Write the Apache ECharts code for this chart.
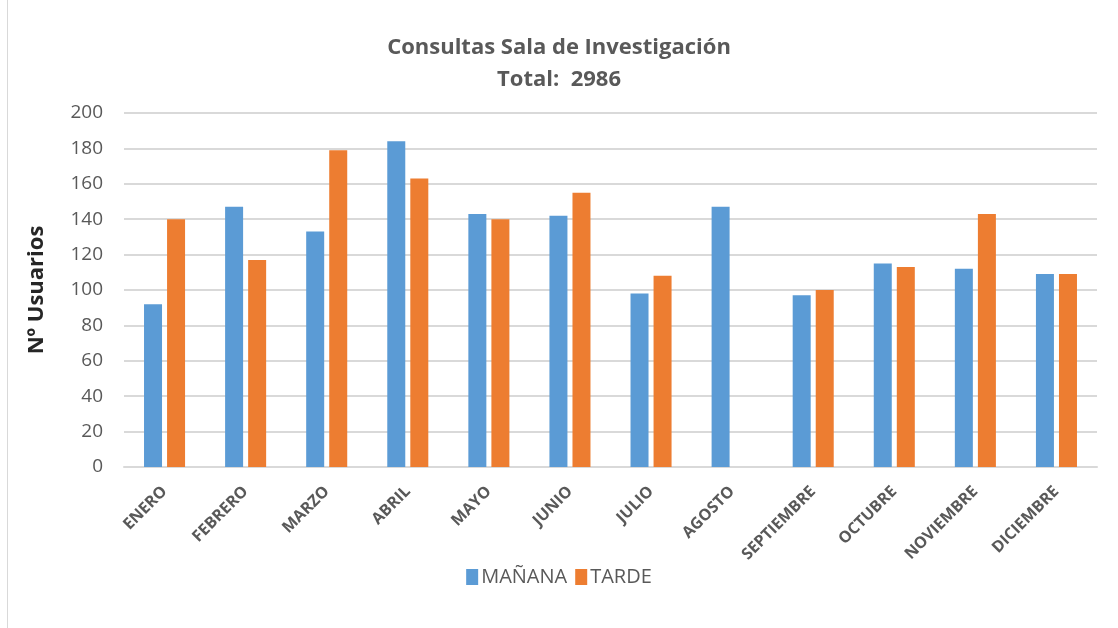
<!DOCTYPE html>
<html>
<head>
<meta charset="utf-8">
<script src="https://cdn.jsdelivr.net/npm/echarts@6/dist/echarts.min.js"></script>
<style>
  html, body { margin: 0; padding: 0; background: #fff; }
  #frame { position: absolute; left: 7px; top: 0; width: 1px; height: 628px; background: #d9d9d9; }
  #chart { width: 1118px; height: 628px; }
</style>
</head>
<body>
<div id="frame"></div>
<div id="chart"></div>
<script>
// Monthly data
const months = ['ENERO', 'FEBRERO', 'MARZO', 'ABRIL', 'MAYO', 'JUNIO', 'JULIO', 'AGOSTO', 'SEPTIEMBRE', 'OCTUBRE', 'NOVIEMBRE', 'DICIEMBRE'];
const manana = [92, 147, 133, 184, 143, 142, 98, 147, 97, 115, 112, 109];
const tarde = [140, 117, 179, 163, 140, 155, 108, 0, 100, 113, 143, 109];
const total = 2986;

const font = '"Open Sans", "Liberation Sans", sans-serif';

let ec = echarts.init(document.getElementById('chart'), null, { renderer: 'canvas' });
ec.setOption({
    animation: false,
    textStyle: { fontFamily: font },
    title: {
        text: 'Consultas Sala de Investigación\nTotal:  ' + total,
        left: 'center',
        top: 27,
        textStyle: { fontFamily: font, fontSize: 22, fontWeight: 'bold', color: '#595959', lineHeight: 32 }
    },
    legend: {
        bottom: 36,
        left: 'center',
        itemWidth: 12,
        itemHeight: 16,
        itemGap: 8,
        icon: 'rect',
        textStyle: { fontFamily: font, fontSize: 20, color: '#595959', padding: [0, 0, 0, -2] },
        data: ['MAÑANA', 'TARDE']
    },
    grid: { left: 124, right: 21, top: 113, bottom: 161 },
    xAxis: {
        type: 'category',
        data: months,
        axisLine: { lineStyle: { color: '#d9d9d9', width: 2 } },
        axisTick: { show: false },
        axisLabel: {
            rotate: 45,
            interval: 0,
            margin: 22,
            fontFamily: font,
            fontSize: 16,
            fontWeight: 'bold',
            color: '#595959'
        }
    },
    yAxis: {
        type: 'value',
        min: 0,
        max: 200,
        interval: 20,
        name: 'Nº Usuarios',
        nameLocation: 'middle',
        nameGap: 76,
        nameTextStyle: { fontFamily: font, fontSize: 22, fontWeight: 'bold', color: '#262626' },
        axisLine: { show: false },
        axisTick: { show: false },
        axisLabel: { fontFamily: font, fontSize: 19, color: '#595959', margin: 21 },
        splitLine: { lineStyle: { color: '#d9d9d9', width: 2 } }
    },
    series: [
        {
            name: 'MAÑANA',
            type: 'bar',
            data: manana,
            barWidth: 18,
            barGap: '28%',
            itemStyle: { color: '#5B9BD5' }
        },
        {
            name: 'TARDE',
            type: 'bar',
            data: tarde,
            barWidth: 18,
            itemStyle: { color: '#ED7D31' }
        }
    ]
});
</script>
</body>
</html>
